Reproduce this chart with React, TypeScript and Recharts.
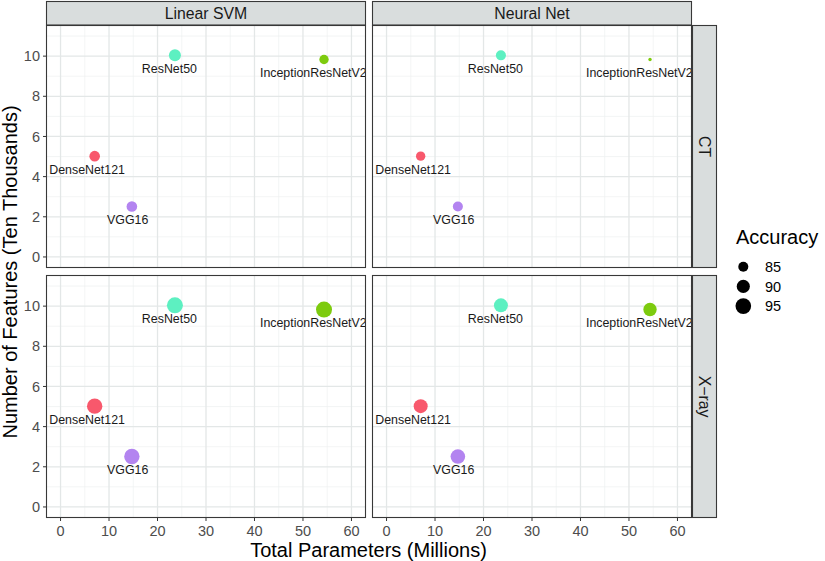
import { ScatterChart, Scatter, XAxis, YAxis, ZAxis, ReferenceLine, Cell } from 'recharts';

// models, in legend order
const MODELS = ['DenseNet121', 'InceptionResNetV2', 'ResNet50', 'VGG16'];
const PARAMS_M = [7.04, 54.34, 23.59, 14.71]; // total parameters (millions)
const FEATURES_10K = [5.02, 9.83, 10.04, 2.51]; // number of features (ten thousands)

// accuracy per facet
const ACC_CT_SVM = [85.8, 84.1, 88.0, 85.8];
const ACC_CT_NN = [84.1, 78.8, 85.0, 85.0];
const ACC_XRAY_SVM = [94.4, 95.8, 95.8, 94.4];
const ACC_XRAY_NN = [91.6, 90.4, 91.6, 92.8];

const X_TICKS = [0, 10, 20, 30, 40, 50, 60];
const X_MINOR = [5, 15, 25, 35, 45, 55];
const Y_TICKS = [0, 2, 4, 6, 8, 10];
const Y_MINOR = [1, 3, 5, 7, 9, 11];
const LEGEND_ACC = [85, 90, 95];

const COLORS = ['#F8586C', '#7DCB0E', '#5DF0C1', '#B384F0'];

const X_DOMAIN = [-3, 63];
const Y_DOMAIN = [-0.55, 11.55];
const Z_DOMAIN = [78, 100];
const Z_RANGE = [0, 249];

const FONT = '"Liberation Sans", Arial, Helvetica, sans-serif';
const PANEL_W = 320;
const PANEL_H = 243;
const Y_AXIS_W = 46;
const X_AXIS_H = 30;
const LABEL_SIZE = 12.4;

let measureCtx: CanvasRenderingContext2D | null = null;
function textWidth(s: string) {
  if (!measureCtx) {
    measureCtx = document.createElement('canvas').getContext('2d');
  }
  if (!measureCtx) return s.length * 6.7;
  measureCtx.font = `${LABEL_SIZE}px ${FONT}`;
  return measureCtx.measureText(s).width;
}

// same linear area scale as ZAxis, for the legend keys
function radiusFor(acc: number) {
  const area = Z_RANGE[0] + ((acc - Z_DOMAIN[0]) / (Z_DOMAIN[1] - Z_DOMAIN[0])) * (Z_RANGE[1] - Z_RANGE[0]);
  return Math.sqrt(area / Math.PI);
}

const PointWithLabel = (props: any) => {
  const { cx, cy, payload } = props;
  const r = props.width ? props.width / 2 : Math.sqrt((props.size || 0) / Math.PI);
  const fill = props.fill || COLORS[MODELS.indexOf(payload.name)];
  const w = textWidth(payload.name);
  return (
    <g>
      <circle cx={cx} cy={cy} r={r} fill={fill} />
      <text x={cx - 0.6 * w} y={cy + 17.5} fontSize={LABEL_SIZE} fontFamily={FONT} fill="#1A1A1A">
        {payload.name}
      </text>
    </g>
  );
};

function Panel({ acc, left, top, showX, showY }: { acc: number[]; left: number; top: number; showX: boolean; showY: boolean }) {
  const data = MODELS.map((name, i) => ({ name, x: PARAMS_M[i], y: FEATURES_10K[i], acc: acc[i] }));
  const w = PANEL_W + (showY ? Y_AXIS_W : 0);
  const h = PANEL_H + (showX ? X_AXIS_H : 0);
  return (
    <div style={{ position: 'absolute', left, top }}>
      <ScatterChart width={w} height={h} margin={{ top: 0, right: 0, bottom: 0, left: 0 }}>
        <XAxis
          type="number"
          dataKey="x"
          domain={X_DOMAIN}
          allowDataOverflow
          ticks={X_TICKS}
          interval={0}
          hide={!showX}
          height={X_AXIS_H}
          axisLine={false}
          tickLine={{ stroke: '#333' }}
          tickSize={3}
          tickMargin={5}
          tick={{ fontSize: 14.5, fill: '#4D4D4D', fontFamily: FONT }}
        />
        <YAxis
          type="number"
          dataKey="y"
          domain={Y_DOMAIN}
          allowDataOverflow
          ticks={Y_TICKS}
          interval={0}
          hide={!showY}
          width={Y_AXIS_W}
          axisLine={false}
          tickLine={{ stroke: '#333' }}
          tickSize={3}
          tickMargin={3}
          tick={{ fontSize: 14.5, fill: '#4D4D4D', fontFamily: FONT }}
        />
        <ZAxis type="number" dataKey="acc" domain={Z_DOMAIN} range={Z_RANGE} />
        {X_MINOR.map((v) => (
          <ReferenceLine key={'xm' + v} x={v} stroke="#EEF0F0" strokeWidth={0.7} />
        ))}
        {Y_MINOR.map((v) => (
          <ReferenceLine key={'ym' + v} y={v} stroke="#EEF0F0" strokeWidth={0.7} />
        ))}
        {X_TICKS.map((v) => (
          <ReferenceLine key={'x' + v} x={v} stroke="#E3E7E7" strokeWidth={1.3} />
        ))}
        {Y_TICKS.map((v) => (
          <ReferenceLine key={'y' + v} y={v} stroke="#E3E7E7" strokeWidth={1.3} />
        ))}
        <Scatter data={data} isAnimationActive={false} shape={PointWithLabel}>
          {data.map((d, i) => (
            <Cell key={d.name} fill={COLORS[i]} />
          ))}
        </Scatter>
      </ScatterChart>
    </div>
  );
}

export default function App() {
  const colL = Y_AXIS_W; // 46
  const colR = 372;
  const rowT = 25;
  const rowB = 275;
  const stroke = '#383838';
  return (
    <div style={{ position: 'absolute', left: 0, top: 0, width: 825, height: 561, background: '#fff', fontFamily: FONT }}>
      <Panel acc={ACC_CT_SVM} left={0} top={rowT} showX={false} showY />
      <Panel acc={ACC_CT_NN} left={colR} top={rowT} showX={false} showY={false} />
      <Panel acc={ACC_XRAY_SVM} left={0} top={rowB} showX showY />
      <Panel acc={ACC_XRAY_NN} left={colR} top={rowB} showX showY={false} />

      <svg width={825} height={561} style={{ position: 'absolute', left: 0, top: 0, pointerEvents: 'none' }}>
        {/* panel frames */}
        {[colL, colR].map((x) =>
          [rowT, rowB].map((y) => (
            <rect key={`${x}-${y}`} x={x + 0.5} y={y + 0.5} width={PANEL_W - 1} height={PANEL_H - 1} fill="none" stroke={stroke} strokeWidth={1.1} />
          ))
        )}
        {/* column strips */}
        <rect x={colL + 0.5} y={1.5} width={PANEL_W - 1} height={rowT - 1.5} fill="#D9DDDD" stroke={stroke} strokeWidth={1.1} />
        <rect x={colR + 0.5} y={1.5} width={PANEL_W - 1} height={rowT - 1.5} fill="#D9DDDD" stroke={stroke} strokeWidth={1.1} />
        <text x={colL + PANEL_W / 2} y={18.5} textAnchor="middle" fontSize={15.8} fill="#1A1A1A">Linear SVM</text>
        <text x={colR + PANEL_W / 2} y={18.5} textAnchor="middle" fontSize={15.8} fill="#1A1A1A">Neural Net</text>
        {/* row strips */}
        <rect x={colR + PANEL_W + 0.5} y={rowT + 0.5} width={24} height={PANEL_H - 1} fill="#D9DDDD" stroke={stroke} strokeWidth={1.1} />
        <rect x={colR + PANEL_W + 0.5} y={rowB + 0.5} width={24} height={PANEL_H - 1} fill="#D9DDDD" stroke={stroke} strokeWidth={1.1} />
        <text transform={`translate(699 ${rowT + PANEL_H / 2}) rotate(90)`} textAnchor="middle" fontSize={15.8} fill="#1A1A1A">CT</text>
        <text transform={`translate(699 ${rowB + PANEL_H / 2}) rotate(90)`} textAnchor="middle" fontSize={15.8} fill="#1A1A1A">X−ray</text>
        {/* axis titles */}
        <text x={368.5} y={556.5} textAnchor="middle" fontSize={20} fill="#000">Total Parameters (Millions)</text>
        <text transform="translate(17 272) rotate(-90)" textAnchor="middle" fontSize={20} fill="#000">Number of Features (Ten Thousands)</text>
        {/* size legend */}
        <text x={736} y={244.3} fontSize={20} fill="#000">Accuracy</text>
        {LEGEND_ACC.map((v, i) => (
          <g key={v}>
            <circle cx={743.3} cy={266.7 + i * 19.7} r={radiusFor(v)} fill="#000" />
            <text x={765} y={266.7 + i * 19.7 + 5.2} fontSize={14.5} fill="#000">{v}</text>
          </g>
        ))}
      </svg>
    </div>
  );
}
